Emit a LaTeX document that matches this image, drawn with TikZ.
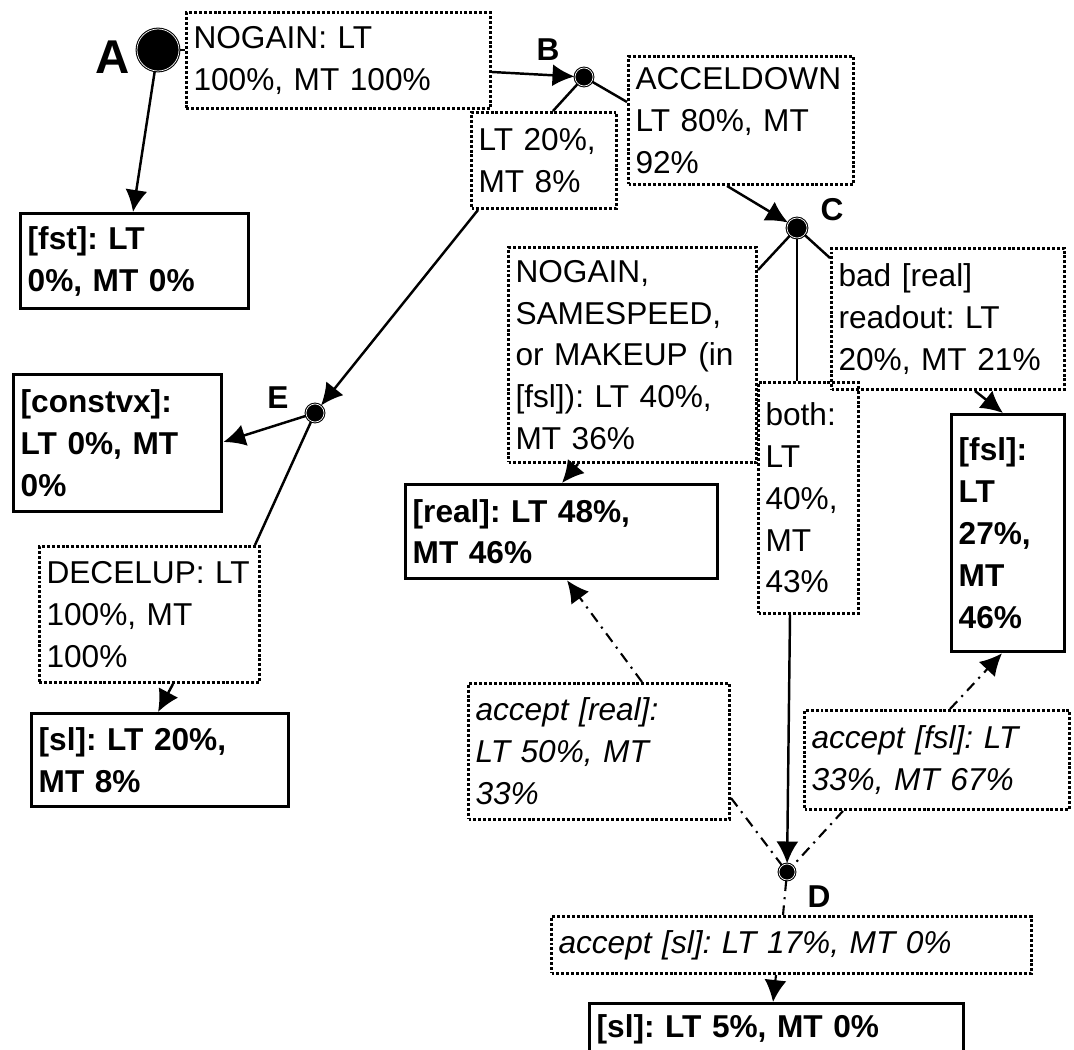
\documentclass[tikz,border=0pt]{standalone}
\usepackage{fontspec}
\setmainfont{Liberation Sans}
\usetikzlibrary{arrows.meta,calc}
\frenchspacing
\tikzset{
  dotbox/.style={draw, line width=1.7pt, dash pattern=on 1.7pt off 1.1pt, anchor=north west, align=left, inner xsep=4pt, inner ysep=2pt, font=\fontsize{18}{23.8}\selectfont},
  accbox/.style={dotbox, font=\fontsize{18}{23.8}\selectfont\itshape},
  solbox/.style={draw, line width=1.9pt, anchor=north west, align=left, inner xsep=4pt, inner ysep=2pt, font=\fontsize{18}{23.8}\selectfont\bfseries},
  junc/.style={circle, fill=black, draw=black, line width=0.6pt, double=white, double distance=0.4pt, inner sep=0pt},
  lbl/.style={font=\fontsize{18}{20}\selectfont\bfseries},
  link/.style={line width=1.4pt},
  accl/.style={line width=1.2pt, dash pattern=on 6pt off 3.5pt on 1.2pt off 3.5pt},
}
\begin{document}
\begin{tikzpicture}[>={Latex[length=12.5pt,width=12.5pt]}, x=0.02cm, y=-0.02cm]
\useasboundingbox (0,0) rectangle (1074,1050);
\clip (0,0) rectangle (1074,1050);

% junctions
\node[junc, minimum size=0.84cm] (A) at (158,50) {};
\node[junc, minimum size=0.36cm] (B) at (584,77) {};
\node[junc, minimum size=0.40cm] (C) at (797,228) {};
\node[junc, minimum size=0.32cm] (D) at (787,872) {};
\node[junc, minimum size=0.36cm] (E) at (315,413) {};
\node[font=\fontsize{27}{29}\selectfont\bfseries] (Alab) at (113,57) {A};
\node[lbl] (Blab) at (548,50) {B};
\node[lbl] (Clab) at (832,210) {C};
\node[lbl] (Dlab) at (819,897) {D};
\node[lbl] (Elab) at (278,398) {E};

% branch boxes
\node[dotbox, text width=5.80cm, minimum height=1.92cm] (n1) at (185,11) {NOGAIN: LT\\100\%, MT 100\%};
\node[dotbox, text width=2.62cm, minimum height=1.92cm] (nlt) at (470,111) {LT 20\%,\\MT 8\%};
\node[dotbox, text width=4.22cm, minimum height=2.56cm] (nacc) at (627,55) {ACCELDOWN\\LT 80\%, MT\\92\%};
\node[dotbox, text width=4.68cm, minimum height=4.30cm] (nsame) at (507,246) {NOGAIN,\\SAMESPEED,\\or~MAKEUP~(in\\{[fsl]}): LT 40\%,\\MT 36\%};
\node[dotbox, text width=1.72cm, minimum height=4.62cm] (nboth) at (757,381) {both:\\LT\\40\%,\\MT\\43\%};
\node[dotbox, text width=4.38cm, minimum height=2.82cm] (nbad) at (830,247) {bad [real]\\readout: LT\\20\%, MT 21\%};
\node[dotbox, text width=4.12cm, minimum height=2.72cm] (ndec) at (38,545) {DECELUP:~LT\\100\%, MT\\100\%};

% accept boxes
\node[accbox, text width=4.94cm, minimum height=2.72cm] (nacr) at (467,682) {accept [real]:\\LT 50\%, MT\\33\%};
\node[accbox, text width=5.02cm, minimum height=1.98cm] (nacf) at (803,709) {accept [fsl]: LT\\33\%, MT 67\%};
\node[accbox, text width=9.32cm, minimum height=1.14cm] (nacs) at (550,915) {accept [sl]: LT 17\%, MT 0\%};

% result boxes
\node[solbox, text width=4.28cm, minimum height=1.90cm] (nfst) at (19,212) {[fst]: LT\\0\%, MT 0\%};
\node[solbox, text width=3.88cm, minimum height=2.74cm] (ncvx) at (12,373) {[constvx]:\\LT 0\%, MT\\0\%};
\node[solbox, text width=4.86cm, minimum height=1.86cm] (nsl) at (30,712) {[sl]: LT 20\%,\\MT 8\%};
\node[solbox, text width=5.96cm, minimum height=1.88cm] (nreal) at (404,483) {[real]: LT 48\%,\\MT 46\%};
\node[solbox, text width=1.98cm, minimum height=4.74cm] (nfsl) at (950,413) {[fsl]:\\LT\\27\%,\\MT\\46\%};
\node[solbox, text width=7.20cm, inner ysep=6pt, text depth=2cm] (nslb) at (588,1002) {[sl]: LT 5\%, MT 0\%};

% connectors
\draw[link] (A) -- (A -| n1.west);
\draw[link,->] (A) -- ($(nfst.north west)+(114,0)$);
\draw[link,->] ($(n1.north east)+(0,61)$) -- (B);
\draw[link] (B) -- ($(nlt.north west)+(83,0)$);
\draw[link] (B) -- ($(nacc.north west)+(0,47)$);
\draw[link,->] ($(nlt.south west)+(8,0)$) -- (E);
\draw[link,->] (E) -- ($(ncvx.north east)+(0,69)$);
\draw[link] (E) -- ($(ndec.north east)+(-6,0)$);
\draw[link,->] ($(ndec.south west)+(135,0)$) -- ($(nsl.north west)+(128,0)$);
\draw[link,->] ($(nacc.south west)+(100,0)$) -- (C);
\draw[link] (C) -- ($(nsame.north east)+(0,24)$);
\draw[link] (C) -- (C |- nboth.north);
\draw[link] (C) -- ($(nbad.north west)+(0,11)$);
\draw[link,->] ($(nbad.south west)+(145,0)$) -- ($(nfsl.north west)+(53,0)$);
\draw[link,->] ($(nsame.south west)+(71,0)$) -- ($(nreal.north west)+(158,0)$);
\draw[link,->] ($(nboth.south west)+(33,0)$) -- (D);
\draw[accl,->] ($(nacr.north west)+(175,0)$) -- ($(nreal.south west)+(163,0)$);
\draw[accl] ($(nacr.south east)+(0,-23)$) -- (D);
\draw[accl,->] ($(nacf.north west)+(147,0)$) -- ($(nfsl.south west)+(52,0)$);
\draw[accl] ($(nacf.south west)+(40,0)$) -- (D);
\draw[accl] (D) -- ($(nacs.north west)+(233,0)$);
\draw[accl,->] ($(nacs.south west)+(226,0)$) -- ($(nslb.north west)+(185,0)$);
\end{tikzpicture}
\end{document}
